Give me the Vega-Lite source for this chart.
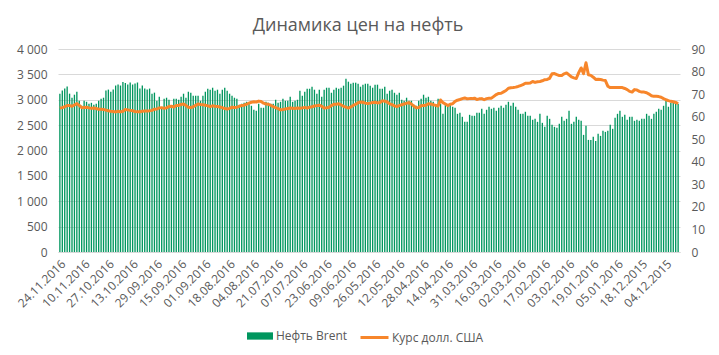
{
"$schema": "https://vega.github.io/schema/vega-lite/v6.json",
"width": 622, "height": 203,
"autosize": {"type": "none"},
"padding": {"left": 58, "top": 49, "right": 39, "bottom": 103},
"background": "white",
"config": {"font": "Open Sans", "view": {"stroke": null}, "axis": {"labelColor": "#595959", "labelFontSize": 12, "ticks": false, "domain": false, "title": null}},
"title": {"text": "Динамика цен на нефть", "fontSize": 18, "fontWeight": "normal", "color": "#595959", "anchor": "middle", "dx": -11, "dy": 3, "offset": 11},
"data": {"values": [
{"date":"24.11.2016","brent":3120,"usd":63.8},{"date":"23.11.2016","brent":3180,"usd":64.0},{"date":"22.11.2016","brent":3220,"usd":64.4},{"date":"21.11.2016","brent":3260,"usd":64.9},{"date":"18.11.2016","brent":3120,"usd":64.9},{"date":"17.11.2016","brent":3040,"usd":64.6},{"date":"16.11.2016","brent":3100,"usd":65.2},{"date":"15.11.2016","brent":3160,"usd":65.8},{"date":"14.11.2016","brent":2980,"usd":65.0},{"date":"11.11.2016","brent":2880,"usd":64.0},
{"date":"10.11.2016","brent":2980,"usd":64.1},{"date":"09.11.2016","brent":2960,"usd":64.2},{"date":"08.11.2016","brent":2920,"usd":63.9},{"date":"07.11.2016","brent":2940,"usd":63.7},{"date":"04.11.2016","brent":2900,"usd":63.8},{"date":"03.11.2016","brent":2920,"usd":63.6},{"date":"02.11.2016","brent":2980,"usd":63.3},{"date":"01.11.2016","brent":3020,"usd":63.3},{"date":"31.10.2016","brent":3040,"usd":63.2},{"date":"28.10.2016","brent":3180,"usd":62.9},
{"date":"27.10.2016","brent":3200,"usd":62.6},{"date":"26.10.2016","brent":3160,"usd":62.4},{"date":"25.10.2016","brent":3200,"usd":62.3},{"date":"24.10.2016","brent":3280,"usd":62.1},{"date":"21.10.2016","brent":3300,"usd":62.4},{"date":"20.10.2016","brent":3280,"usd":62.1},{"date":"19.10.2016","brent":3350,"usd":62.4},{"date":"18.10.2016","brent":3330,"usd":63.2},{"date":"17.10.2016","brent":3300,"usd":63.0},{"date":"14.10.2016","brent":3340,"usd":62.8},
{"date":"13.10.2016","brent":3300,"usd":62.6},{"date":"12.10.2016","brent":3320,"usd":62.3},{"date":"11.10.2016","brent":3340,"usd":62.2},{"date":"10.10.2016","brent":3220,"usd":62.2},{"date":"07.10.2016","brent":3280,"usd":62.4},{"date":"06.10.2016","brent":3220,"usd":62.5},{"date":"05.10.2016","brent":3200,"usd":62.5},{"date":"04.10.2016","brent":3220,"usd":62.6},{"date":"03.10.2016","brent":3120,"usd":62.8},{"date":"30.09.2016","brent":3140,"usd":63.3},
{"date":"29.09.2016","brent":2980,"usd":63.4},{"date":"28.09.2016","brent":3059,"usd":63.9},{"date":"27.09.2016","brent":2835,"usd":64.0},{"date":"26.09.2016","brent":3020,"usd":63.7},{"date":"23.09.2016","brent":3040,"usd":63.9},{"date":"22.09.2016","brent":3000,"usd":64.5},{"date":"21.09.2016","brent":2835,"usd":64.6},{"date":"20.09.2016","brent":3020,"usd":64.3},{"date":"19.09.2016","brent":3020,"usd":65.0},{"date":"16.09.2016","brent":3000,"usd":65.0},
{"date":"15.09.2016","brent":3059,"usd":65.4},{"date":"14.09.2016","brent":3119,"usd":65.6},{"date":"13.09.2016","brent":3040,"usd":64.9},{"date":"12.09.2016","brent":3158,"usd":64.2},{"date":"09.09.2016","brent":3138,"usd":64.0},{"date":"08.09.2016","brent":3079,"usd":64.4},{"date":"07.09.2016","brent":3079,"usd":65.0},{"date":"06.09.2016","brent":3079,"usd":65.6},{"date":"05.09.2016","brent":2980,"usd":65.4},{"date":"02.09.2016","brent":3079,"usd":65.3},
{"date":"01.09.2016","brent":3158,"usd":65.1},{"date":"31.08.2016","brent":3217,"usd":64.8},{"date":"30.08.2016","brent":3198,"usd":64.5},{"date":"29.08.2016","brent":3237,"usd":64.8},{"date":"26.08.2016","brent":3178,"usd":64.6},{"date":"25.08.2016","brent":3198,"usd":64.5},{"date":"24.08.2016","brent":3119,"usd":64.3},{"date":"23.08.2016","brent":3198,"usd":64.0},{"date":"22.08.2016","brent":3237,"usd":63.6},{"date":"19.08.2016","brent":3178,"usd":63.4},
{"date":"18.08.2016","brent":3119,"usd":63.7},{"date":"17.08.2016","brent":3079,"usd":64.2},{"date":"16.08.2016","brent":3040,"usd":64.1},{"date":"15.08.2016","brent":3020,"usd":64.2},{"date":"12.08.2016","brent":2901,"usd":64.6},{"date":"11.08.2016","brent":2921,"usd":65.0},{"date":"10.08.2016","brent":2941,"usd":65.1},{"date":"09.08.2016","brent":2960,"usd":65.5},{"date":"08.08.2016","brent":2941,"usd":66.0},{"date":"05.08.2016","brent":2881,"usd":66.4},
{"date":"04.08.2016","brent":2802,"usd":66.6},{"date":"03.08.2016","brent":2783,"usd":66.5},{"date":"02.08.2016","brent":2921,"usd":66.9},{"date":"01.08.2016","brent":2842,"usd":66.7},{"date":"29.07.2016","brent":2842,"usd":66.0},{"date":"28.07.2016","brent":2960,"usd":65.6},{"date":"27.07.2016","brent":2941,"usd":65.5},{"date":"26.07.2016","brent":2921,"usd":65.0},{"date":"25.07.2016","brent":2921,"usd":64.5},{"date":"22.07.2016","brent":3000,"usd":64.0},
{"date":"21.07.2016","brent":2941,"usd":63.6},{"date":"20.07.2016","brent":2960,"usd":63.0},{"date":"19.07.2016","brent":3020,"usd":63.2},{"date":"18.07.2016","brent":2980,"usd":63.4},{"date":"15.07.2016","brent":2980,"usd":63.6},{"date":"14.07.2016","brent":3059,"usd":63.8},{"date":"13.07.2016","brent":2960,"usd":63.7},{"date":"12.07.2016","brent":2980,"usd":63.6},{"date":"11.07.2016","brent":3000,"usd":63.8},{"date":"08.07.2016","brent":3178,"usd":63.7},
{"date":"07.07.2016","brent":3079,"usd":63.9},{"date":"06.07.2016","brent":3158,"usd":64.1},{"date":"05.07.2016","brent":3217,"usd":63.8},{"date":"04.07.2016","brent":3217,"usd":64.2},{"date":"01.07.2016","brent":3257,"usd":64.4},{"date":"30.06.2016","brent":3198,"usd":64.7},{"date":"29.06.2016","brent":3119,"usd":64.9},{"date":"28.06.2016","brent":3198,"usd":65.1},{"date":"27.06.2016","brent":3059,"usd":64.6},{"date":"24.06.2016","brent":3198,"usd":63.8},
{"date":"23.06.2016","brent":3237,"usd":63.9},{"date":"22.06.2016","brent":3237,"usd":64.2},{"date":"21.06.2016","brent":3138,"usd":64.9},{"date":"20.06.2016","brent":3198,"usd":65.5},{"date":"17.06.2016","brent":3237,"usd":65.5},{"date":"16.06.2016","brent":3217,"usd":65.7},{"date":"15.06.2016","brent":3237,"usd":65.2},{"date":"14.06.2016","brent":3277,"usd":64.6},{"date":"13.06.2016","brent":3415,"usd":64.2},{"date":"10.06.2016","brent":3356,"usd":63.8},
{"date":"09.06.2016","brent":3316,"usd":64.3},{"date":"08.06.2016","brent":3336,"usd":65.0},{"date":"07.06.2016","brent":3336,"usd":65.5},{"date":"06.06.2016","brent":3316,"usd":66.2},{"date":"03.06.2016","brent":3257,"usd":66.5},{"date":"02.06.2016","brent":3297,"usd":66.4},{"date":"01.06.2016","brent":3316,"usd":66.0},{"date":"31.05.2016","brent":3316,"usd":65.8},{"date":"30.05.2016","brent":3277,"usd":66.0},{"date":"27.05.2016","brent":3237,"usd":66.3},
{"date":"26.05.2016","brent":3297,"usd":66.4},{"date":"25.05.2016","brent":3297,"usd":66.1},{"date":"24.05.2016","brent":3217,"usd":66.3},{"date":"23.05.2016","brent":3217,"usd":67.0},{"date":"20.05.2016","brent":3257,"usd":66.9},{"date":"19.05.2016","brent":3119,"usd":66.5},{"date":"18.05.2016","brent":3178,"usd":65.7},{"date":"17.05.2016","brent":3198,"usd":65.3},{"date":"16.05.2016","brent":3138,"usd":64.8},{"date":"13.05.2016","brent":3099,"usd":64.5},
{"date":"12.05.2016","brent":3138,"usd":64.9},{"date":"11.05.2016","brent":3000,"usd":65.3},{"date":"10.05.2016","brent":2980,"usd":65.6},{"date":"09.05.2016","brent":3040,"usd":66.0},{"date":"06.05.2016","brent":2980,"usd":66.2},{"date":"05.05.2016","brent":2980,"usd":65.6},{"date":"04.05.2016","brent":2901,"usd":64.7},{"date":"03.05.2016","brent":2881,"usd":63.9},{"date":"02.05.2016","brent":2980,"usd":64.1},{"date":"29.04.2016","brent":3020,"usd":64.8},
{"date":"28.04.2016","brent":3099,"usd":65.0},{"date":"27.04.2016","brent":3040,"usd":65.1},{"date":"26.04.2016","brent":3059,"usd":65.7},{"date":"25.04.2016","brent":2980,"usd":65.6},{"date":"22.04.2016","brent":2960,"usd":65.3},{"date":"21.04.2016","brent":2881,"usd":65.0},{"date":"20.04.2016","brent":3020,"usd":64.7},{"date":"19.04.2016","brent":2921,"usd":67.4},{"date":"18.04.2016","brent":2723,"usd":66.2},{"date":"15.04.2016","brent":2921,"usd":65.6},
{"date":"14.04.2016","brent":2862,"usd":64.9},{"date":"13.04.2016","brent":2901,"usd":65.5},{"date":"12.04.2016","brent":2862,"usd":65.7},{"date":"11.04.2016","brent":2842,"usd":66.8},{"date":"08.04.2016","brent":2723,"usd":67.3},{"date":"07.04.2016","brent":2743,"usd":67.6},{"date":"06.04.2016","brent":2664,"usd":68.0},{"date":"05.04.2016","brent":2565,"usd":68.3},{"date":"04.04.2016","brent":2565,"usd":67.9},{"date":"01.04.2016","brent":2703,"usd":68.0},
{"date":"31.03.2016","brent":2684,"usd":68.0},{"date":"30.03.2016","brent":2684,"usd":68.2},{"date":"29.03.2016","brent":2743,"usd":67.6},{"date":"28.03.2016","brent":2743,"usd":67.9},{"date":"24.03.2016","brent":2822,"usd":68.0},{"date":"23.03.2016","brent":2723,"usd":67.5},{"date":"22.03.2016","brent":2802,"usd":68.0},{"date":"21.03.2016","brent":2862,"usd":68.2},{"date":"18.03.2016","brent":2822,"usd":68.2},{"date":"17.03.2016","brent":2842,"usd":69.0},
{"date":"16.03.2016","brent":2783,"usd":69.8},{"date":"15.03.2016","brent":2842,"usd":70.3},{"date":"14.03.2016","brent":2881,"usd":70.4},{"date":"11.03.2016","brent":2842,"usd":71.0},{"date":"10.03.2016","brent":2901,"usd":71.6},{"date":"09.03.2016","brent":2960,"usd":72.6},{"date":"08.03.2016","brent":2881,"usd":72.8},{"date":"07.03.2016","brent":2941,"usd":72.9},{"date":"04.03.2016","brent":2862,"usd":73.1},{"date":"03.03.2016","brent":2802,"usd":73.4},
{"date":"02.03.2016","brent":2723,"usd":73.8},{"date":"01.03.2016","brent":2723,"usd":74.2},{"date":"29.02.2016","brent":2763,"usd":74.8},{"date":"26.02.2016","brent":2684,"usd":74.8},{"date":"25.02.2016","brent":2684,"usd":74.9},{"date":"24.02.2016","brent":2605,"usd":75.6},{"date":"23.02.2016","brent":2624,"usd":75.2},{"date":"22.02.2016","brent":2565,"usd":75.5},{"date":"19.02.2016","brent":2723,"usd":75.6},{"date":"18.02.2016","brent":2545,"usd":75.9},
{"date":"17.02.2016","brent":2466,"usd":76.4},{"date":"16.02.2016","brent":2684,"usd":76.5},{"date":"15.02.2016","brent":2624,"usd":77.0},{"date":"12.02.2016","brent":2506,"usd":79.0},{"date":"11.02.2016","brent":2466,"usd":79.1},{"date":"10.02.2016","brent":2447,"usd":78.6},{"date":"09.02.2016","brent":2526,"usd":78.2},{"date":"08.02.2016","brent":2664,"usd":78.3},{"date":"05.02.2016","brent":2585,"usd":79.0},{"date":"04.02.2016","brent":2624,"usd":79.4},
{"date":"03.02.2016","brent":2783,"usd":78.5},{"date":"02.02.2016","brent":2526,"usd":77.6},{"date":"01.02.2016","brent":2565,"usd":77.2},{"date":"29.01.2016","brent":2664,"usd":76.9},{"date":"27.01.2016","brent":2605,"usd":79.5},{"date":"26.01.2016","brent":2585,"usd":81.6},{"date":"25.01.2016","brent":2308,"usd":79.1},{"date":"22.01.2016","brent":2486,"usd":83.9},{"date":"21.01.2016","brent":2209,"usd":78.6},{"date":"20.01.2016","brent":2209,"usd":78.3},
{"date":"19.01.2016","brent":2269,"usd":77.5},{"date":"18.01.2016","brent":2189,"usd":76.5},{"date":"15.01.2016","brent":2328,"usd":76.6},{"date":"14.01.2016","brent":2288,"usd":76.5},{"date":"13.01.2016","brent":2387,"usd":76.2},{"date":"12.01.2016","brent":2367,"usd":76.0},{"date":"11.01.2016","brent":2387,"usd":73.5},{"date":"08.01.2016","brent":2506,"usd":72.9},{"date":"07.01.2016","brent":2427,"usd":72.9},{"date":"06.01.2016","brent":2644,"usd":72.9},
{"date":"05.01.2016","brent":2723,"usd":72.9},{"date":"04.01.2016","brent":2783,"usd":72.9},{"date":"31.12.2015","brent":2664,"usd":72.9},{"date":"30.12.2015","brent":2703,"usd":72.5},{"date":"29.12.2015","brent":2605,"usd":72.0},{"date":"28.12.2015","brent":2664,"usd":71.2},{"date":"24.12.2015","brent":2664,"usd":70.9},{"date":"23.12.2015","brent":2585,"usd":72.0},{"date":"22.12.2015","brent":2605,"usd":71.8},{"date":"21.12.2015","brent":2585,"usd":71.2},
{"date":"18.12.2015","brent":2624,"usd":70.9},{"date":"17.12.2015","brent":2624,"usd":70.9},{"date":"16.12.2015","brent":2723,"usd":70.6},{"date":"15.12.2015","brent":2684,"usd":70.0},{"date":"14.12.2015","brent":2624,"usd":69.3},{"date":"11.12.2015","brent":2723,"usd":69.0},{"date":"10.12.2015","brent":2763,"usd":69.0},{"date":"09.12.2015","brent":2822,"usd":68.9},{"date":"08.12.2015","brent":2802,"usd":68.6},{"date":"07.12.2015","brent":2881,"usd":68.0},
{"date":"04.12.2015","brent":2980,"usd":67.5},{"date":"03.12.2015","brent":2862,"usd":67.1},{"date":"02.12.2015","brent":2941,"usd":66.8},{"date":"01.12.2015","brent":2941,"usd":66.6},{"date":"30.11.2015","brent":2941,"usd":66.3},{"date":"27.11.2015","brent":2921,"usd":65.8}
]},
"encoding": {
  "x": {"field": "date", "type": "ordinal", "sort": null,
        "scale": {"paddingInner": 0.45, "paddingOuter": 0.5},
        "axis": {"values": ["24.11.2016","10.11.2016","27.10.2016","13.10.2016","29.09.2016","15.09.2016","01.09.2016","18.08.2016","04.08.2016","21.07.2016","07.07.2016","23.06.2016","09.06.2016","26.05.2016","12.05.2016","28.04.2016","14.04.2016","31.03.2016","16.03.2016","02.03.2016","17.02.2016","03.02.2016","19.01.2016","05.01.2016","18.12.2015","04.12.2015"],
                 "labelAngle": -45, "labelPadding": 6, "domain": true, "domainColor": "#D9D9D9", "grid": false}}
},
"layer": [
  {"mark": {"type": "bar"},
   "encoding": {
     "y": {"field": "brent", "type": "quantitative", "scale": {"domain": [0, 4000], "nice": false},
           "axis": {"values": [0,500,1000,1500,2000,2500,3000,3500,4000], "labelExpr": "replace(format(datum.value, ',d'), ',', ' ')", "grid": true, "gridColor": "#D9D9D9", "labelPadding": 11}},
     "fill": {"datum": "Нефть Brent", "scale": {"range": ["#00965E"]},
              "legend": {"orient": "none", "legendX": 188, "legendY": 273, "title": null, "symbolType": "M-1,-0.28H1V0.28H-1Z", "symbolSize": 676, "labelFontSize": 12, "labelColor": "#595959", "labelOffset": 2}}
   }},
  {"mark": {"type": "line", "strokeWidth": 3, "strokeJoin": "round"},
   "encoding": {
     "y": {"field": "usd", "type": "quantitative", "scale": {"domain": [0, 90], "nice": false},
           "axis": {"orient": "right", "values": [0,10,20,30,40,50,60,70,80,90], "grid": false, "labelPadding": 11}},
     "stroke": {"datum": "Курс долл. США", "scale": {"range": ["#F7862B"]},
                "legend": {"orient": "none", "legendX": 301, "legendY": 273, "title": null, "symbolType": "stroke", "symbolSize": 784, "symbolStrokeWidth": 3, "labelFontSize": 12, "labelColor": "#595959", "labelOffset": 2}}
   }}
],
"resolve": {"scale": {"y": "independent"}}
}
